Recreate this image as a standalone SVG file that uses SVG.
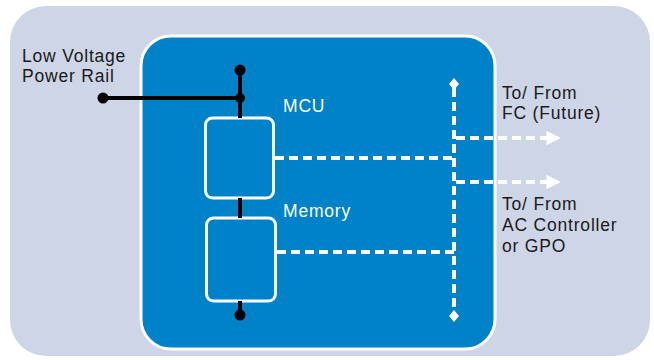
<svg xmlns="http://www.w3.org/2000/svg" width="654" height="360" viewBox="0 0 654 360">
<defs>
<style>
.lbl{font-family:"Liberation Sans",Arial,sans-serif;font-size:17.5px;letter-spacing:0.8px;fill:#1a1a1a}
.wl{font-family:"Liberation Sans",Arial,sans-serif;font-size:17.5px;letter-spacing:0.8px;fill:#ffffff}
.box{fill:#0082C8;stroke:#ffffff;stroke-width:3}
.pw{stroke:#000000;stroke-width:4;fill:none}
.dl{stroke:#ffffff;stroke-width:4;fill:none;stroke-dasharray:9 5}
</style>
<marker id="ah" viewBox="0 0 10 10" refX="8" refY="5" markerWidth="3.6" markerHeight="3.6" orient="auto" markerUnits="strokeWidth">
<path d="M0,0 L10,5 L0,10 Z" fill="#ffffff"/>
</marker>
</defs>
<rect width="654" height="360" fill="#ffffff"/>
<rect id="background" x="10" y="6" width="640" height="350" rx="36" fill="#CDD5E6"/>
<g id="controller">
<rect x="141" y="36" width="354" height="313" rx="30" fill="#0082C8" stroke="#ffffff" stroke-width="3"/>
</g>
<g id="mcu">
<rect class="box" x="205.5" y="118" width="68" height="80" rx="7"/>
<text class="wl" x="283" y="112">MCU</text>
</g>
<g id="memory">
<rect class="box" x="206.5" y="218" width="69" height="83" rx="7"/>
<text class="wl" x="283" y="217">Memory</text>
</g>
<g id="connectors">
<path class="pw" d="M103,98 H240 M240,70 V118 M240,198 V218 M240,301 V315"/>
<circle cx="103" cy="98" r="5.5" fill="#000"/>
<circle cx="240" cy="98" r="5" fill="#000"/>
<circle cx="240" cy="70" r="5.5" fill="#000"/>
<circle cx="240" cy="315" r="5.5" fill="#000"/>
<path class="dl" d="M454,88 V312"/>
<path class="dl" d="M275,158 H454"/>
<path class="dl" d="M277,252 H454"/>
<path class="dl" d="M456,138 H558" marker-end="url(#ah)"/>
<path class="dl" d="M456,182 H558" marker-end="url(#ah)"/>
<path d="M454,78 L459,84 L454,90 L449,84 Z" fill="#fff"/>
<path d="M454,310 L459,316 L454,322 L449,316 Z" fill="#fff"/>
</g>
<g id="labels">
<text class="lbl" x="22" y="62">Low Voltage</text>
<text class="lbl" x="22" y="82">Power Rail</text>
<text class="lbl" x="502" y="99">To/ From</text>
<text class="lbl" x="502" y="119">FC (Future)</text>
<text class="lbl" x="502" y="210">To/ From</text>
<text class="lbl" x="502" y="231">AC Controller</text>
<text class="lbl" x="502" y="252">or GPO</text>
</g>
</svg>
